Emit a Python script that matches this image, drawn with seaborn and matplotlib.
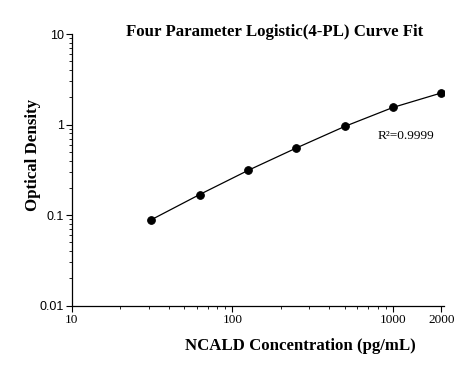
import numpy as np
import pandas as pd
import seaborn as sns
import matplotlib.pyplot as plt
from matplotlib.ticker import FixedLocator, LogLocator, NullFormatter

# standard curve values
concentration = [31.25, 62.5, 125, 250, 500, 1000, 2000]
optical_density = [0.089, 0.169, 0.312, 0.552, 0.955, 1.55, 2.24]
x_ticks = [10, 100, 1000, 2000]
y_ticks = [0.01, 0.1, 1, 10]
y_tick_labels = ['0.01', '0.1', '1', '10']

df = pd.DataFrame({'conc': concentration, 'od': optical_density})

sns.set_style('ticks')
plt.rcParams['text.color'] = 'black'
plt.rcParams['xtick.color'] = 'black'
plt.rcParams['ytick.color'] = 'black'
serif = ['Liberation Serif', 'DejaVu Serif']
sans = ['Liberation Sans', 'DejaVu Sans']

fig = plt.figure(figsize=(4.58, 3.75), dpi=100)
ax = fig.add_axes([0.157, 0.185, 0.812, 0.724])

sns.lineplot(data=df, x='conc', y='od', ax=ax, color='black', linewidth=0.9,
             marker='o', markersize=5.5, markeredgecolor='black')

ax.set_xscale('log')
ax.set_yscale('log')
ax.set_xlim(10, 2070)
ax.set_ylim(0.01, 10)

ax.xaxis.set_major_locator(FixedLocator(x_ticks))
ax.set_xticklabels([str(t) for t in x_ticks], fontfamily=serif, fontsize=9.5)
ax.xaxis.set_minor_locator(LogLocator(base=10, subs=np.arange(2, 10)))
ax.xaxis.set_minor_formatter(NullFormatter())

ax.yaxis.set_major_locator(FixedLocator(y_ticks))
ax.set_yticklabels(y_tick_labels, fontfamily=sans, fontsize=9)
ax.yaxis.set_minor_locator(LogLocator(base=10, subs=np.arange(2, 10)))
ax.yaxis.set_minor_formatter(NullFormatter())

ax.tick_params(which='major', length=4, width=0.8, color='black', pad=2)
ax.tick_params(which='minor', length=2.5, width=0.6, color='black')
for side in ['top', 'right']:
    ax.spines[side].set_visible(False)
for side in ['left', 'bottom']:
    ax.spines[side].set_linewidth(0.9)
    ax.spines[side].set_color('black')

ax.set_xlabel('')
ax.set_ylabel('')

fig.text(0.60, 0.915, 'Four Parameter Logistic(4-PL) Curve Fit', ha='center', va='center',
         fontfamily=serif, fontweight='bold', fontsize=12.1)
fig.text(0.655, 0.077, 'NCALD Concentration (pg/mL)', ha='center', va='center',
         fontfamily=serif, fontweight='bold', fontsize=12.1)
fig.text(0.072, 0.587, 'Optical Density', ha='center', va='center', rotation=90,
         fontfamily=serif, fontweight='bold', fontsize=12.2)
ax.text(0.823, 0.625, 'R²=0.9999', transform=ax.transAxes, ha='left', va='center',
        fontfamily=serif, fontsize=9.6)

fig.savefig('out.png', dpi=100)
